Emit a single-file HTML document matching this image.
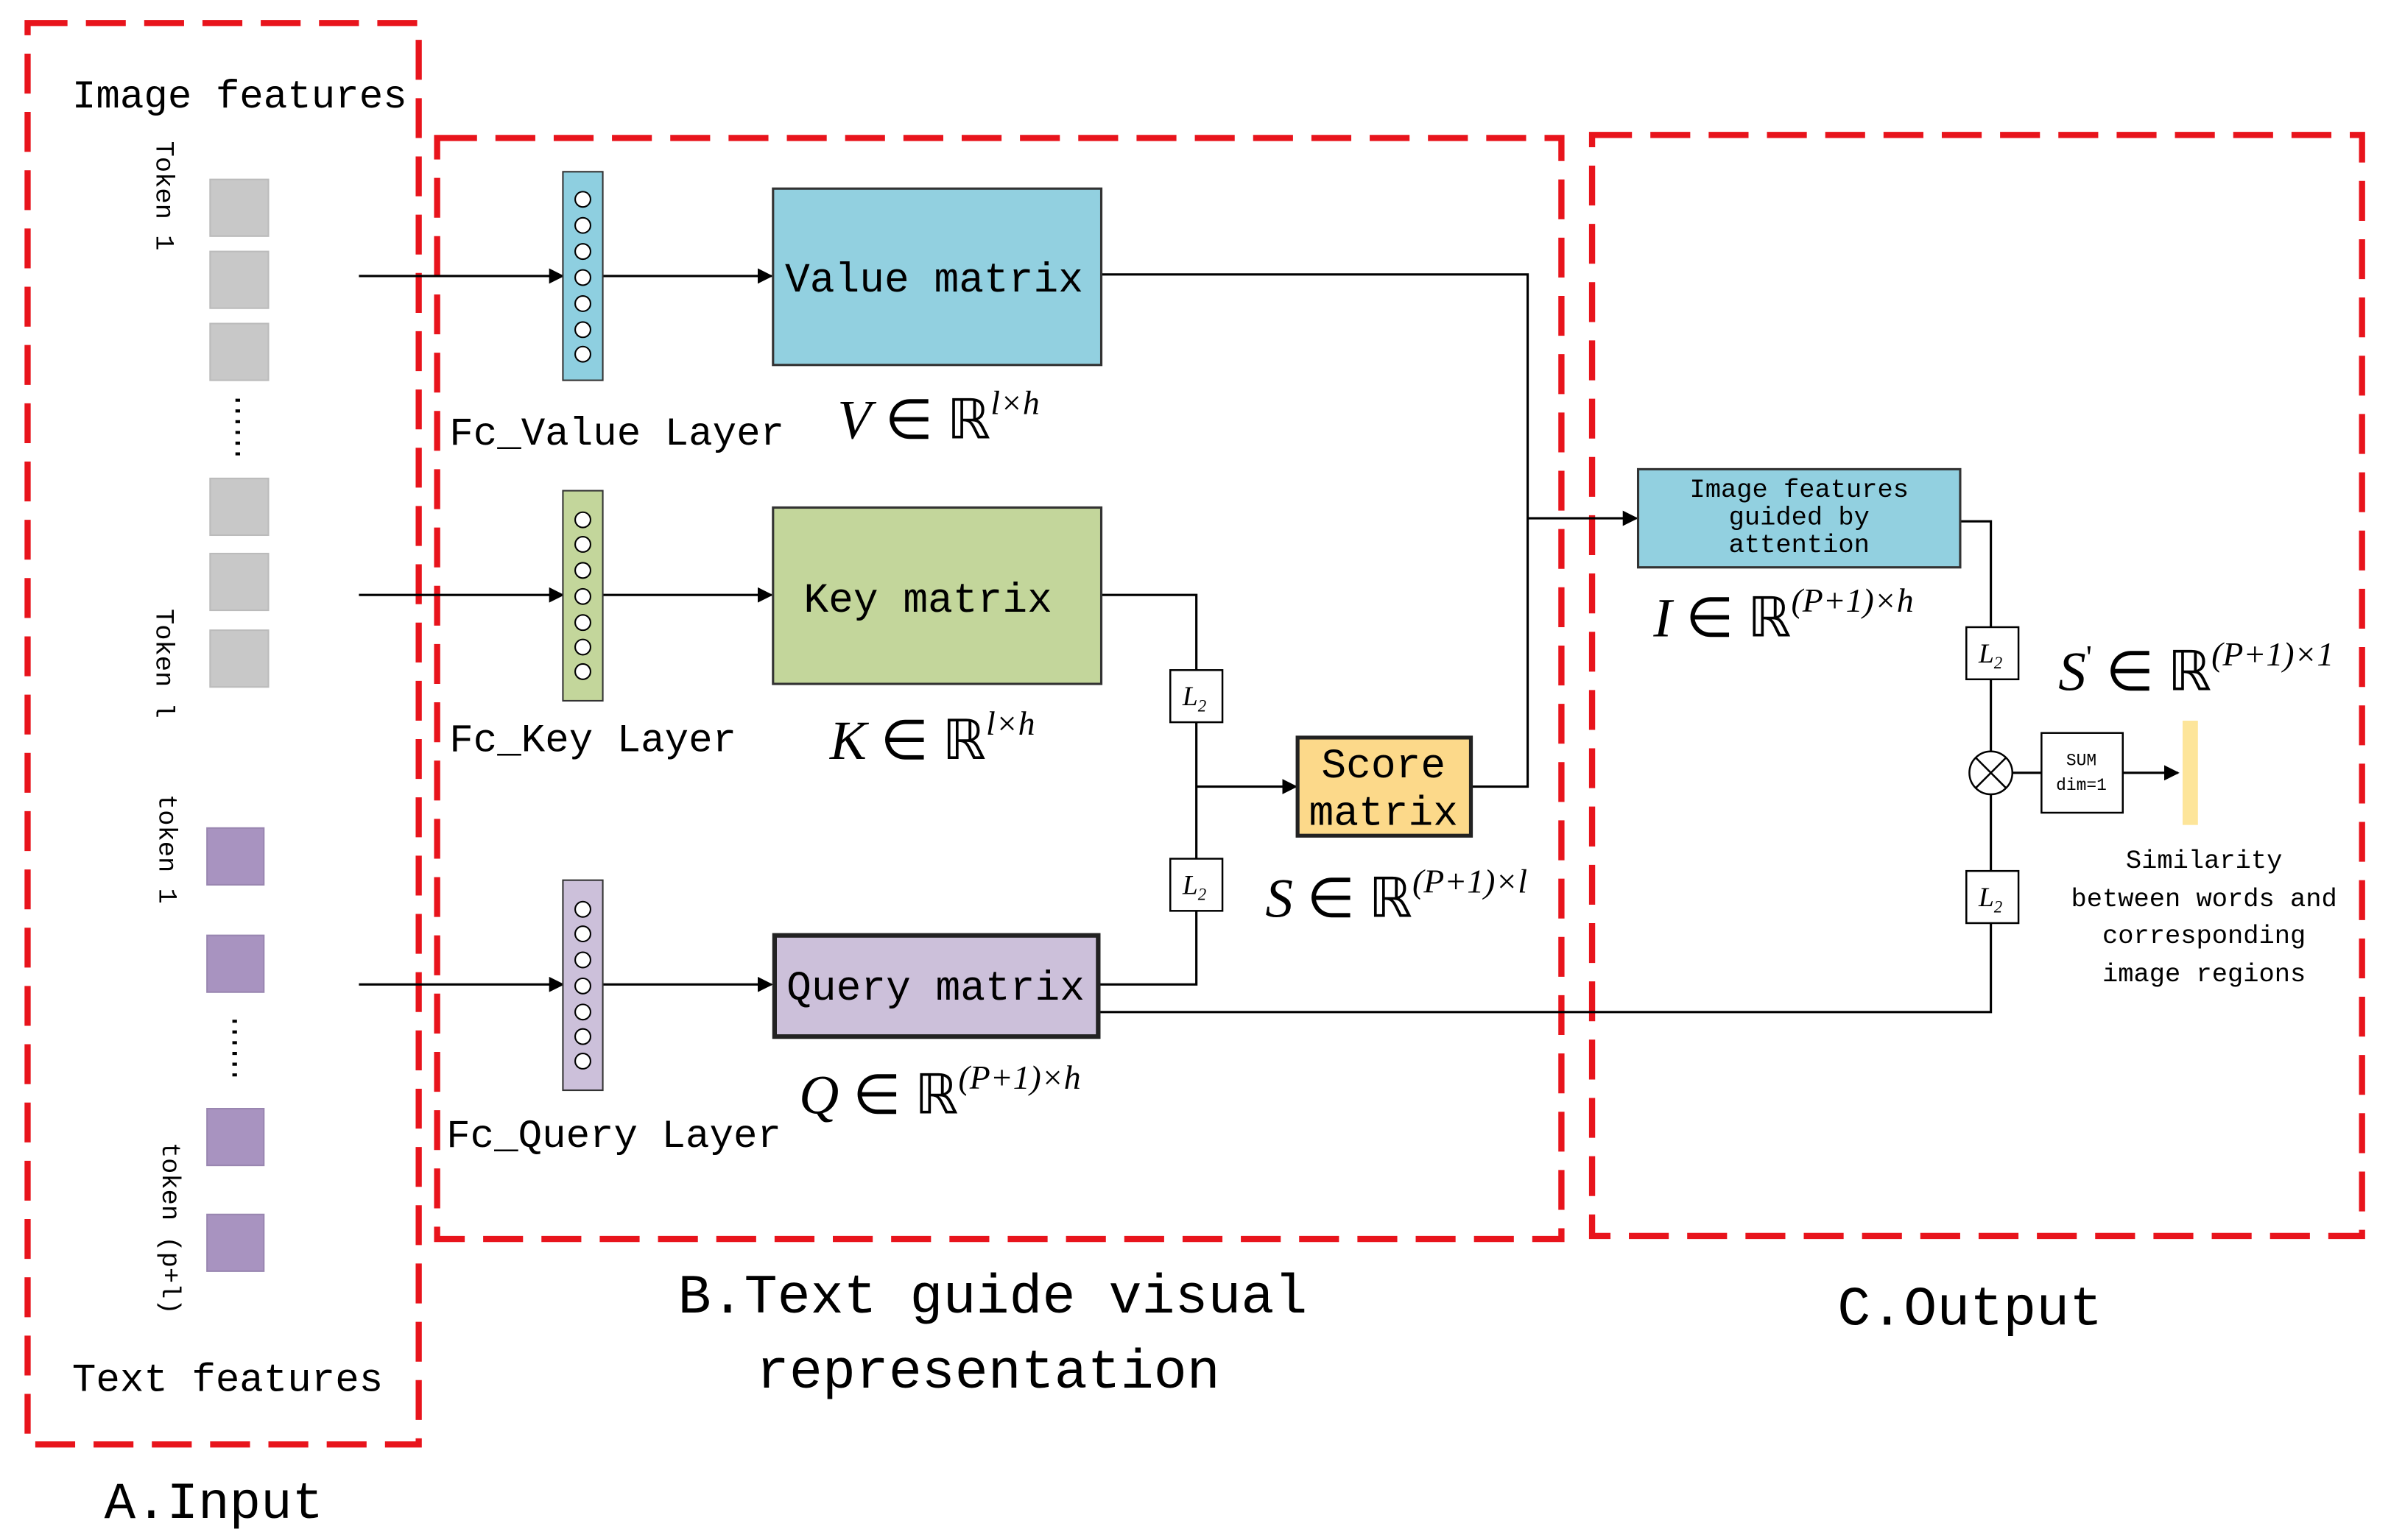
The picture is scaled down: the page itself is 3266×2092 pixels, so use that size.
<!DOCTYPE html>
<html><head><meta charset="utf-8"><style>html,body{margin:0;padding:0;background:#fff}svg{display:block}</style></head>
<body>
<svg width="3266" height="2092" viewBox="0 0 1568 1004.3" preserveAspectRatio="none" xmlns="http://www.w3.org/2000/svg">
<defs><marker id="a" markerWidth="10" markerHeight="10" refX="9" refY="5" orient="auto" markerUnits="userSpaceOnUse"><path d="M0,0 L10,5 L0,10 z" fill="#000"/></marker></defs>
<g fill="none" stroke="#e8141c" stroke-width="4" stroke-dasharray="26,12">
<rect x="18" y="15" width="255" height="927"/>
<rect x="285" y="90" width="733" height="718"/>
<rect x="1038" y="88" width="502" height="718"/>
</g>
<g font-family="Liberation Mono, monospace" fill="#000">
<text x="47" y="70" font-size="26">Image features</text>
<text x="47" y="907" font-size="26">Text features</text>
<text x="68" y="990" font-size="34">A.Input</text>
<text x="442" y="856" font-size="36">B.Text guide visual</text>
<text x="493" y="905" font-size="36">representation</text>
<text x="1198" y="864" font-size="36">C.Output</text>
<text x="293" y="290" font-size="26">Fc_Value Layer</text>
<text x="293" y="490" font-size="26">Fc_Key Layer</text>
<text x="291" y="748" font-size="26">Fc_Query Layer</text>
</g>
<g font-family="Liberation Mono, monospace" font-size="17" fill="#000">
<text transform="translate(102,92) rotate(90)">Token 1</text>
<text transform="translate(102,397) rotate(90)">Token l</text>
<text transform="translate(104,518) rotate(90)">token 1</text>
<text transform="translate(106,745) rotate(90)">token (p+l)</text>
</g>
<g fill="#c8c8c8" stroke="#bbb">
<rect x="137" y="117" width="38" height="37"/><rect x="137" y="164" width="38" height="37"/><rect x="137" y="211" width="38" height="37"/>
<rect x="137" y="312" width="38" height="37"/><rect x="137" y="361" width="38" height="37"/><rect x="137" y="411" width="38" height="37"/>
</g>
<g fill="#a893c0" stroke="#9986b0">
<rect x="135" y="540" width="37" height="37"/><rect x="135" y="610" width="37" height="37"/><rect x="135" y="723" width="37" height="37"/><rect x="135" y="792" width="37" height="37"/>
</g>
<g stroke="#000" stroke-width="3" stroke-dasharray="2,5"><line x1="155" y1="260" x2="155" y2="300"/><line x1="153" y1="665" x2="153" y2="705"/></g>
<g stroke="#000" stroke-width="1.5" fill="none">
<line x1="234" y1="180" x2="367" y2="180" marker-end="url(#a)"/>
<line x1="393" y1="180" x2="503" y2="180" marker-end="url(#a)"/>
<line x1="234" y1="388" x2="367" y2="388" marker-end="url(#a)"/>
<line x1="393" y1="388" x2="503" y2="388" marker-end="url(#a)"/>
<line x1="234" y1="642" x2="367" y2="642" marker-end="url(#a)"/>
<line x1="393" y1="642" x2="503" y2="642" marker-end="url(#a)"/>
<polyline points="718,179 996,179 996,513 959,513"/>
<line x1="996" y1="338" x2="1067" y2="338" marker-end="url(#a)"/>
<polyline points="718,388 780,388 780,642 716,642"/>
<line x1="780" y1="513" x2="845" y2="513" marker-end="url(#a)"/>
<polyline points="716,660 1298,660 1298,340 1278,340"/>
<line x1="1312" y1="504" x2="1331" y2="504"/>
<line x1="1384" y1="504" x2="1420" y2="504" marker-end="url(#a)"/>
</g>
<rect x="367" y="112" width="26" height="136" fill="#8ecfe0" stroke="#333"/>
<rect x="367" y="320" width="26" height="137" fill="#c3d69b" stroke="#333"/>
<rect x="367" y="574" width="26" height="137" fill="#ccc0da" stroke="#333"/>
<g fill="#fff" stroke="#000" stroke-width="1">
<circle cx="380" cy="130" r="5"/><circle cx="380" cy="147" r="5"/><circle cx="380" cy="164" r="5"/><circle cx="380" cy="181" r="5"/><circle cx="380" cy="198" r="5"/><circle cx="380" cy="215" r="5"/><circle cx="380" cy="231" r="5"/>
<circle cx="380" cy="339" r="5"/><circle cx="380" cy="355" r="5"/><circle cx="380" cy="372" r="5"/><circle cx="380" cy="389" r="5"/><circle cx="380" cy="406" r="5"/><circle cx="380" cy="422" r="5"/><circle cx="380" cy="438" r="5"/>
<circle cx="380" cy="593" r="5"/><circle cx="380" cy="609" r="5"/><circle cx="380" cy="626" r="5"/><circle cx="380" cy="643" r="5"/><circle cx="380" cy="660" r="5"/><circle cx="380" cy="676" r="5"/><circle cx="380" cy="692" r="5"/>
</g>
<rect x="504" y="123" width="214" height="115" fill="#92d0e0" stroke="#333" stroke-width="1.5"/>
<rect x="504" y="331" width="214" height="115" fill="#c3d69b" stroke="#333" stroke-width="1.5"/>
<rect x="505" y="610" width="211" height="66" fill="#ccc0da" stroke="#222" stroke-width="3"/>
<g font-family="Liberation Mono, monospace" fill="#000" font-size="27" text-anchor="middle">
<text x="609" y="190">Value matrix</text>
<text x="605" y="399">Key matrix</text>
<text x="610" y="652">Query matrix</text>
</g>
<rect x="846" y="481" width="113" height="64" fill="#fcd98a" stroke="#222" stroke-width="2.5"/>
<text x="902" y="507" font-family="Liberation Mono, monospace" font-size="27" text-anchor="middle">Score</text>
<text x="902" y="538" font-family="Liberation Mono, monospace" font-size="27" text-anchor="middle">matrix</text>
<rect x="1068" y="306" width="210" height="64" fill="#92d0e0" stroke="#333" stroke-width="1.5"/>
<g font-family="Liberation Mono, monospace" font-size="17" text-anchor="middle">
<text x="1173" y="324">Image features</text><text x="1173" y="342">guided by</text><text x="1173" y="360">attention</text>
<text x="1437" y="566">Similarity</text><text x="1437" y="591">between words and</text><text x="1437" y="615">corresponding</text><text x="1437" y="640">image regions</text>
</g>
<g fill="#fff" stroke="#000" stroke-width="1.2">
<rect x="763" y="437" width="34" height="34"/><rect x="763" y="560" width="34" height="34"/>
<rect x="1282" y="409" width="34" height="34"/><rect x="1282" y="568" width="34" height="34"/>
<rect x="1331" y="478" width="53" height="52"/>
<circle cx="1298" cy="504" r="14"/>
</g>
<path d="M1288,494 L1308,514 M1308,494 L1288,514" stroke="#000" stroke-width="1.2"/>
<g font-family="Liberation Serif, serif" font-style="italic" font-size="18">
<text x="771" y="460">L<tspan font-size="11" dy="4">2</tspan></text>
<text x="771" y="583">L<tspan font-size="11" dy="4">2</tspan></text>
<text x="1290" y="432">L<tspan font-size="11" dy="4">2</tspan></text>
<text x="1290" y="591">L<tspan font-size="11" dy="4">2</tspan></text>
</g>
<text x="1357" y="499" font-family="Liberation Mono, monospace" font-size="11" text-anchor="middle">SUM</text>
<text x="1357" y="515" font-family="Liberation Mono, monospace" font-size="11" text-anchor="middle">dim=1</text>
<rect x="1423" y="470" width="10" height="68" fill="#fde59a"/>
<g font-family="Liberation Serif, serif" font-size="36">
<text x="546" y="286"><tspan font-style="italic">V</tspan> ∈ ℝ<tspan font-size="22" dy="-16" font-style="italic">l×h</tspan></text>
<text x="541" y="495"><tspan font-style="italic">K</tspan> ∈ ℝ<tspan font-size="22" dy="-16" font-style="italic">l×h</tspan></text>
<text x="521" y="726"><tspan font-style="italic">Q</tspan> ∈ ℝ<tspan font-size="22" dy="-16" font-style="italic">(P+1)×h</tspan></text>
<text x="825" y="598"><tspan font-style="italic">S</tspan> ∈ ℝ<tspan font-size="22" dy="-16" font-style="italic">(P+1)×l</tspan></text>
<text x="1078" y="415"><tspan font-style="italic">I</tspan> ∈ ℝ<tspan font-size="22" dy="-16" font-style="italic">(P+1)×h</tspan></text>
<text x="1342" y="450"><tspan font-style="italic">S</tspan><tspan font-size="22" dy="-14">'</tspan><tspan dy="14"> ∈ ℝ</tspan><tspan font-size="22" dy="-16" font-style="italic">(P+1)×1</tspan></text>
</g>
</svg>
</body></html>
